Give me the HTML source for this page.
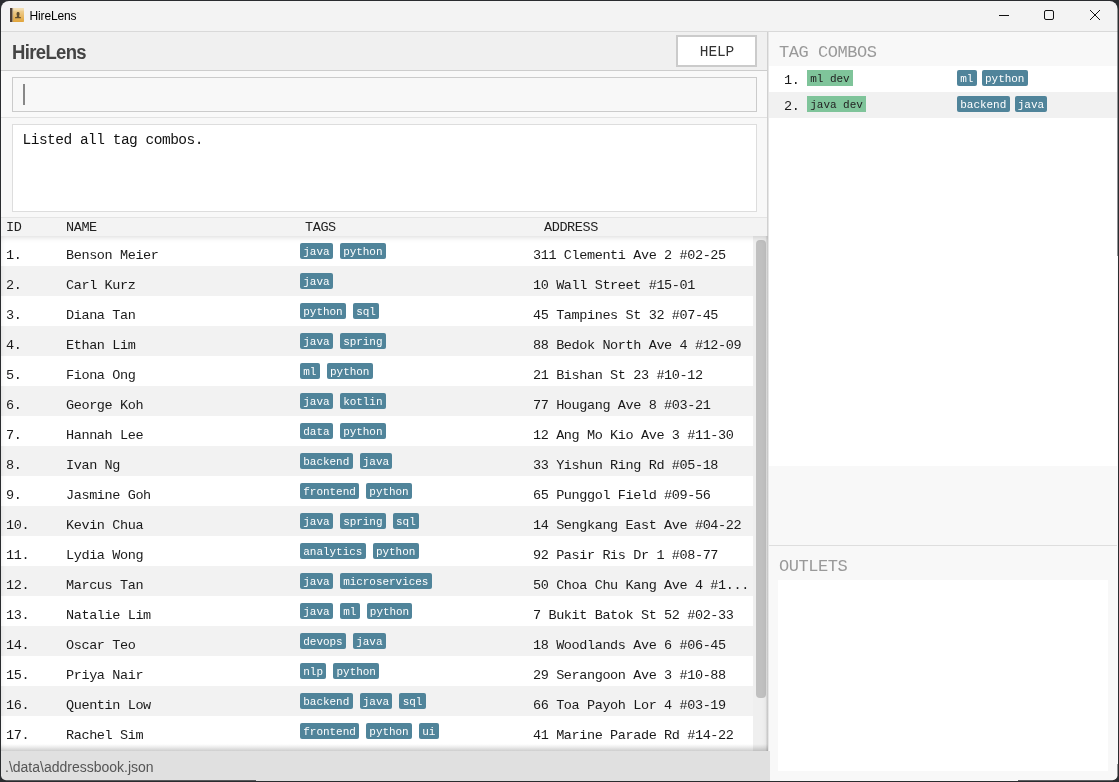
<!DOCTYPE html>
<html><head><meta charset="utf-8">
<style>
*{margin:0;padding:0;box-sizing:border-box}
html,body{width:1119px;height:782px;overflow:hidden;background:#2a2c2f}
body{position:relative;font-family:"Liberation Mono",monospace;-webkit-font-smoothing:antialiased}
.win{will-change:transform;position:absolute;left:0;top:0;width:1119px;height:782px;background:#f3f3f3;clip-path:inset(1px 1.5px 1.8px 1px round 8px 8px 5px 5px)}
.a{position:absolute}
.ttl{position:absolute;left:29.5px;top:9px;font-family:"Liberation Sans",sans-serif;font-size:12px;color:#000;letter-spacing:-0.15px}
.brand{position:absolute;left:12px;top:41px;font-family:"Liberation Sans",sans-serif;font-weight:bold;font-size:20px;letter-spacing:-0.7px;color:#444;transform:scaleX(0.925);transform-origin:0 0}
.help{position:absolute;left:676px;top:35px;width:81px;height:32px;background:#fff;border:2px solid #cbcbcb;font-size:14.5px;color:#333;text-align:center;line-height:30px;letter-spacing:-0.1px;padding-left:1px}
.restext{position:absolute;left:22.5px;top:131.5px;font-size:14.5px;color:#111;letter-spacing:-0.5px}
.th{position:absolute;top:220px;font-size:13.5px;color:#222;letter-spacing:-0.4px}
.row{position:absolute;left:1px;width:752px;height:30px;background:#fff}
.row.alt{background:#f2f2f2}
.c{position:absolute;top:12px;font-size:13.5px;color:#1a1a1a;letter-spacing:-0.39px;white-space:nowrap}
.id{left:5px}.nm{left:65px}.ad{left:532px}
.tags{position:absolute;left:299px;top:7px;height:16px;display:flex;gap:7px}
.chip{display:block;height:16px;overflow:hidden;background:#50849a;color:#fff;font-size:11px;letter-spacing:-0.045px;line-height:18px;padding:0 3.3px;border-radius:2px;white-space:nowrap}
.stext{position:absolute;left:5px;top:759px;font-family:"Liberation Sans",sans-serif;font-size:14px;color:#555}
.rh{position:absolute;left:779px;top:43px;font-size:17px;color:#999;letter-spacing:-0.45px}
.crow{position:absolute;left:769px;width:348px;height:26px;background:#fff}
.crow.alt{background:#f1f1f1}
.cid{position:absolute;left:15px;top:6.5px;font-size:13.5px;color:#1a1a1a;letter-spacing:-0.42px}
.gchip{position:absolute;left:38px;top:4px;height:16px;overflow:hidden;background:#7fc49a;color:#222;font-size:11px;letter-spacing:-0.045px;line-height:18px;padding:0 3.3px}
.ctags{position:absolute;left:188px;top:4px;display:flex;gap:5px}
</style></head><body>
<div class="win">
  <!-- title bar -->
  <div class="a" style="left:0;top:0;width:1119px;height:31px;background:#f3f3f3"></div>
  <div class="a" style="left:0;top:31px;width:1119px;height:1px;background:#d9d9d9"></div>
  <svg class="a" style="left:10px;top:8px" width="14" height="14" viewBox="0 0 14 14">
    <defs><linearGradient id="ig" x1="0" y1="0" x2="0" y2="1"><stop offset="0" stop-color="#f2d9a6"/><stop offset="1" stop-color="#e1a43a"/></linearGradient></defs>
    <rect x="0" y="0" width="14" height="14" rx="0.8" fill="url(#ig)"/>
    <rect x="0" y="0" width="14" height="2.5" fill="#f4e2bd" opacity="0.6"/>
    <rect x="0" y="0" width="2.2" height="14" fill="#4e3f36"/>
    <rect x="2.2" y="0" width="0.9" height="14" fill="#9a8a78"/>
    <rect x="6.6" y="4.1" width="2.9" height="3.9" rx="1.3" fill="#5f4d30"/>
    <path d="M7.2 7.5 L8.9 7.5 L9.2 8.8 L10.9 9.3 L10.9 10.3 L5 10.3 L5 9.3 L6.9 8.8 Z" fill="#5f4d30"/>
  </svg>
  <div class="ttl">HireLens</div>
  <svg class="a" style="left:991px;top:1px" width="126" height="30">
    <line x1="8" y1="14.5" x2="18" y2="14.5" stroke="#111" stroke-width="1"/>
    <rect x="53.5" y="9.5" width="9" height="9" rx="1.5" fill="none" stroke="#111" stroke-width="1"/>
    <path d="M99 9 L109 19 M109 9 L99 19" stroke="#111" stroke-width="1"/>
  </svg>

  <!-- left panel -->
  <div class="a" style="left:0;top:32px;width:767px;height:38px;background:#f0f0f0"></div>
  <div class="a" style="left:0;top:70px;width:767px;height:1px;background:#cdcdcd"></div><div class="a" style="left:0;top:71px;width:767px;height:1px;background:#e4e4e4"></div>
  <div class="brand">HireLens</div>
  <div class="help">HELP</div>
  <div class="a" style="left:0;top:71px;width:767px;height:46px;background:#f9f9f9"></div>
  <div class="a" style="left:12px;top:77px;width:745px;height:35px;background:#f8f8f8;border:1px solid #cbcbcb"></div>
  <div class="a" style="left:23px;top:84px;width:1.5px;height:21px;background:#888"></div>
  <div class="a" style="left:0;top:117px;width:767px;height:1px;background:#e2e2e2"></div>
  <div class="a" style="left:0;top:118px;width:767px;height:99px;background:#f8f8f8"></div>
  <div class="a" style="left:12px;top:124px;width:745px;height:88px;background:#fff;border:1px solid #dddddd"></div>
  <div class="restext">Listed all tag combos.</div>
  <div class="a" style="left:0;top:217px;width:767px;height:1px;background:#e4e4e4"></div>
  <div class="a" style="left:0;top:218px;width:767px;height:18px;background:#f3f3f3"></div>
  <span class="th" style="left:6px">ID</span>
  <span class="th" style="left:66px">NAME</span>
  <span class="th" style="left:305px">TAGS</span>
  <span class="th" style="left:544px">ADDRESS</span>
  <!-- list -->
  <div class="a" style="left:0;top:236px;width:768px;height:515px;background:#fff"></div>
<div class="row" style="top:236px"><span class="c id">1.</span><span class="c nm">Benson Meier</span><span class="tags"><span class="chip">java</span><span class="chip">python</span></span><span class="c ad">311 Clementi Ave 2 #02-25</span></div>
<div class="row alt" style="top:266px"><span class="c id">2.</span><span class="c nm">Carl Kurz</span><span class="tags"><span class="chip">java</span></span><span class="c ad">10 Wall Street #15-01</span></div>
<div class="row" style="top:296px"><span class="c id">3.</span><span class="c nm">Diana Tan</span><span class="tags"><span class="chip">python</span><span class="chip">sql</span></span><span class="c ad">45 Tampines St 32 #07-45</span></div>
<div class="row alt" style="top:326px"><span class="c id">4.</span><span class="c nm">Ethan Lim</span><span class="tags"><span class="chip">java</span><span class="chip">spring</span></span><span class="c ad">88 Bedok North Ave 4 #12-09</span></div>
<div class="row" style="top:356px"><span class="c id">5.</span><span class="c nm">Fiona Ong</span><span class="tags"><span class="chip">ml</span><span class="chip">python</span></span><span class="c ad">21 Bishan St 23 #10-12</span></div>
<div class="row alt" style="top:386px"><span class="c id">6.</span><span class="c nm">George Koh</span><span class="tags"><span class="chip">java</span><span class="chip">kotlin</span></span><span class="c ad">77 Hougang Ave 8 #03-21</span></div>
<div class="row" style="top:416px"><span class="c id">7.</span><span class="c nm">Hannah Lee</span><span class="tags"><span class="chip">data</span><span class="chip">python</span></span><span class="c ad">12 Ang Mo Kio Ave 3 #11-30</span></div>
<div class="row alt" style="top:446px"><span class="c id">8.</span><span class="c nm">Ivan Ng</span><span class="tags"><span class="chip">backend</span><span class="chip">java</span></span><span class="c ad">33 Yishun Ring Rd #05-18</span></div>
<div class="row" style="top:476px"><span class="c id">9.</span><span class="c nm">Jasmine Goh</span><span class="tags"><span class="chip">frontend</span><span class="chip">python</span></span><span class="c ad">65 Punggol Field #09-56</span></div>
<div class="row alt" style="top:506px"><span class="c id">10.</span><span class="c nm">Kevin Chua</span><span class="tags"><span class="chip">java</span><span class="chip">spring</span><span class="chip">sql</span></span><span class="c ad">14 Sengkang East Ave #04-22</span></div>
<div class="row" style="top:536px"><span class="c id">11.</span><span class="c nm">Lydia Wong</span><span class="tags"><span class="chip">analytics</span><span class="chip">python</span></span><span class="c ad">92 Pasir Ris Dr 1 #08-77</span></div>
<div class="row alt" style="top:566px"><span class="c id">12.</span><span class="c nm">Marcus Tan</span><span class="tags"><span class="chip">java</span><span class="chip">microservices</span></span><span class="c ad">50 Choa Chu Kang Ave 4 #1...</span></div>
<div class="row" style="top:596px"><span class="c id">13.</span><span class="c nm">Natalie Lim</span><span class="tags"><span class="chip">java</span><span class="chip">ml</span><span class="chip">python</span></span><span class="c ad">7 Bukit Batok St 52 #02-33</span></div>
<div class="row alt" style="top:626px"><span class="c id">14.</span><span class="c nm">Oscar Teo</span><span class="tags"><span class="chip">devops</span><span class="chip">java</span></span><span class="c ad">18 Woodlands Ave 6 #06-45</span></div>
<div class="row" style="top:656px"><span class="c id">15.</span><span class="c nm">Priya Nair</span><span class="tags"><span class="chip">nlp</span><span class="chip">python</span></span><span class="c ad">29 Serangoon Ave 3 #10-88</span></div>
<div class="row alt" style="top:686px"><span class="c id">16.</span><span class="c nm">Quentin Low</span><span class="tags"><span class="chip">backend</span><span class="chip">java</span><span class="chip">sql</span></span><span class="c ad">66 Toa Payoh Lor 4 #03-19</span></div>
<div class="row" style="top:716px"><span class="c id">17.</span><span class="c nm">Rachel Sim</span><span class="tags"><span class="chip">frontend</span><span class="chip">python</span><span class="chip">ui</span></span><span class="c ad">41 Marine Parade Rd #14-22</span></div>
  <div class="a" style="left:753px;top:236px;width:15px;height:515px;background:#efefef"></div>
  <div class="a" style="left:756px;top:240px;width:10px;height:458px;background:#c0c0c0;border-radius:4px"></div>
  <div class="a" style="left:0;top:236px;width:768px;height:515px;box-shadow:inset 0 0 6px rgba(0,0,0,0.13), inset 0 6px 6px -4px rgba(0,0,0,0.05)"></div>
  <div class="a" style="left:767px;top:32px;width:1px;height:204px;background:#d0d0d0"></div><div class="a" style="left:766px;top:236px;width:2px;height:515px;background:linear-gradient(90deg,rgba(0,0,0,0.04),rgba(0,0,0,0.12))"></div>
  <div class="a" style="left:0;top:744px;width:768px;height:7px;background:linear-gradient(rgba(0,0,0,0),rgba(0,0,0,0.14))"></div>
  <!-- status -->
  <div class="a" style="left:0;top:751px;width:770px;height:31px;background:#e0e0e0"></div>
  <div class="stext">.\data\addressbook.json</div>

  <!-- right panel -->
  <div class="a" style="left:768px;top:32px;width:351px;height:750px;background:#f8f8f8"></div>
  <div class="a" style="left:768px;top:32px;width:1px;height:719px;background:#e6e6e6"></div>
  <div class="a" style="left:768px;top:751px;width:1.5px;height:31px;background:#e0e0e0"></div>
  <div class="rh">TAG COMBOS</div>
  <div class="crow" style="top:66px"><span class="cid">1.</span><span class="gchip">ml dev</span><span class="ctags"><span class="chip">ml</span><span class="chip">python</span></span></div>
  <div class="crow alt" style="top:92px"><span class="cid">2.</span><span class="gchip">java dev</span><span class="ctags"><span class="chip">backend</span><span class="chip">java</span></span></div>
  <div class="a" style="left:769px;top:118px;width:348px;height:348px;background:#fff"></div>
  <div class="a" style="left:769px;top:545px;width:348px;height:1px;background:#dedede"></div>
  <div class="rh" style="top:557px">OUTLETS</div>
  <div class="a" style="left:778px;top:580px;width:330px;height:191px;background:#fff"></div>
</div>
</body></html>
